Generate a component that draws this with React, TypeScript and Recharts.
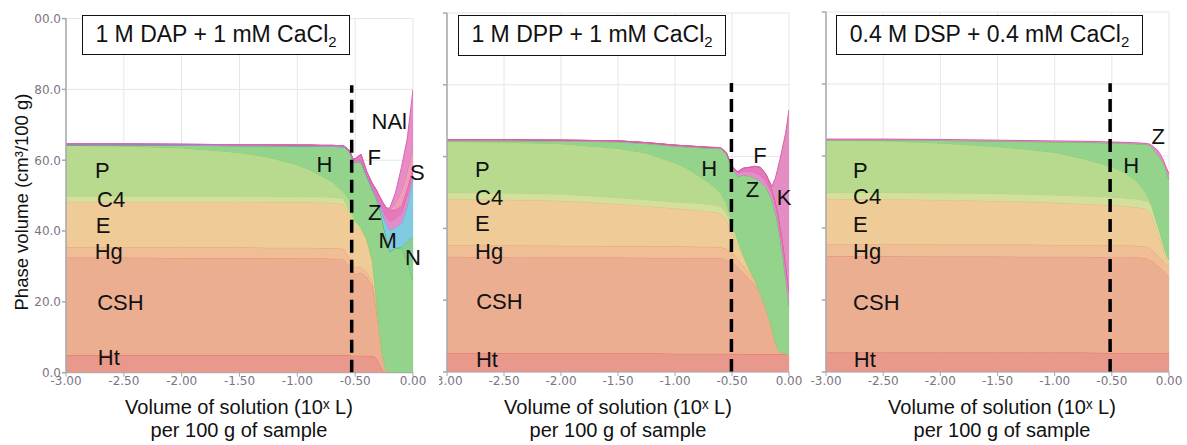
import React from 'react';
import { ComposedChart, Area, XAxis, YAxis, CartesianGrid, ReferenceLine, ReferenceDot } from 'recharts';

// ---------- shared axis data ----------
const xTicks = [-3, -2.5, -2, -1.5, -1, -0.5, 0];
const yTicks = [0, 20, 40, 60, 80, 100];
const yTickLabels = ['0.0', '20.0', '40.0', '60.0', '80.0', '00.0'];

// ---------- panel 1 : 1 M DAP + 1 mM CaCl2 (upper boundary of each phase) ----------
const x1 = [-3, -2.5, -2, -1.5, -1.25, -1, -0.9, -0.8, -0.7, -0.6, -0.55, -0.52, -0.5, -0.45, -0.4, -0.35, -0.32, -0.3, -0.28, -0.26, -0.23, -0.2, -0.15, -0.1, -0.05, 0];
const ht1 = [5.0, 5.0, 5.0, 5.0, 5.0, 5.0, 5.0, 5.0, 5.0, 5.0, 4.9, 4.8, 4.8, 4.8, 4.8, 4.7, 4.2, 3.0, 1.8, 0.5, 0, 0, 0, 0, 0, 0];
const csh1 = [32.5, 32.5, 32.4, 32.4, 32.4, 32.3, 32.3, 32.3, 32.2, 32.0, 30.0, 28.5, 27.8, 28.3, 27.0, 24.5, 18.6, 14.0, 9.2, 4.5, 0.5, 0, 0, 0, 0, 0];
const hg1 = [35.4, 35.4, 35.4, 35.4, 35.3, 35.3, 35.3, 35.2, 35.2, 35.0, 32.5, 30.5, 29.8, 30.0, 28.5, 26.0, 19.5, 14.5, 9.2, 4.5, 0.5, 0, 0, 0, 0, 0];
const e1 = [48.3, 48.3, 48.3, 48.3, 48.2, 48.2, 48.2, 48.1, 48.0, 47.6, 44.5, 42.5, 41.5, 40.5, 37.5, 31.5, 22.0, 15.0, 9.2, 4.5, 0.5, 0, 0, 0, 0, 0];
const c41 = [49.9, 49.9, 49.9, 49.9, 49.8, 49.8, 49.8, 49.7, 49.6, 49.2, 45.5, 43.5, 42.3, 41.0, 37.8, 31.5, 22.0, 15.0, 9.2, 4.5, 0.5, 0, 0, 0, 0, 0];
const p1 = [64.2, 64.0, 63.5, 62.2, 60.9, 58.7, 57.5, 55.7, 54.0, 51.0, 48.8, 45.0, 43.0, 41.0, 37.8, 31.5, 22.0, 15.0, 9.2, 4.5, 0.5, 0, 0, 0, 0, 0];
const h1 = [64.3, 64.3, 64.2, 64.1, 64.1, 64.0, 64.0, 63.9, 63.9, 63.8, 62.5, 60.0, 59.3, 59.6, 55.5, 51.6, 49.5, 47.5, 45.5, 42.0, 38.0, 34.2, 35.2, 35.0, 31.5, 26.0];
const n1 = [64.3, 64.3, 64.2, 64.1, 64.1, 64.0, 64.0, 63.9, 63.9, 63.8, 62.5, 60.0, 59.3, 59.6, 55.5, 51.6, 49.5, 47.5, 45.5, 42.0, 38.0, 34.2, 35.2, 35.5, 37.0, 38.5];
const m1 = [64.3, 64.3, 64.2, 64.1, 64.1, 64.0, 64.0, 63.9, 63.9, 63.8, 62.5, 60.0, 59.3, 59.6, 55.5, 51.6, 49.5, 47.8, 46.5, 44.5, 42.0, 40.3, 41.0, 42.2, 47.0, 55.0];
const z1 = [64.6, 64.6, 64.5, 64.4, 64.4, 64.3, 64.3, 64.2, 64.2, 64.1, 62.8, 60.4, 59.8, 60.0, 56.0, 52.2, 50.3, 48.8, 47.5, 46.0, 44.0, 42.8, 43.5, 45.0, 50.0, 57.0];
const f1 = [64.6, 64.6, 64.5, 64.4, 64.4, 64.3, 64.3, 64.2, 64.2, 64.1, 62.8, 60.5, 60.4, 61.7, 56.8, 53.3, 51.8, 50.5, 49.2, 48.0, 46.5, 45.8, 46.0, 47.0, 52.0, 58.0];
const s1 = [64.6, 64.6, 64.5, 64.4, 64.4, 64.3, 64.3, 64.2, 64.2, 64.1, 62.8, 60.5, 60.4, 61.7, 56.8, 53.3, 51.8, 50.5, 49.2, 48.0, 46.5, 45.8, 48.0, 51.5, 57.0, 64.0];
const nai1 = [64.6, 64.6, 64.5, 64.4, 64.4, 64.3, 64.3, 64.2, 64.2, 64.1, 62.8, 60.5, 60.4, 61.7, 56.8, 53.3, 51.8, 50.5, 49.2, 48.0, 46.5, 46.5, 51.0, 58.0, 66.0, 80.0];

// ---------- panel 2 : 1 M DPP + 1 mM CaCl2 ----------
const x2 = [-3, -2.5, -2, -1.5, -1.25, -1, -0.9, -0.8, -0.7, -0.6, -0.55, -0.5, -0.45, -0.4, -0.35, -0.3, -0.25, -0.2, -0.15, -0.12, -0.1, -0.08, -0.05, -0.03, 0];
const ht2 = [5.2, 5.2, 5.2, 5.2, 5.2, 5.1, 5.1, 5.1, 5.1, 5.1, 5.1, 5.1, 5.1, 5.0, 5.0, 5.0, 5.0, 5.0, 5.0, 5.0, 5.0, 5.0, 5.0, 5.0, 5.0];
const csh2 = [32.1, 32.0, 31.9, 31.9, 31.8, 31.8, 31.8, 31.8, 31.8, 31.8, 31.2, 30.5, 29.2, 27.5, 26.0, 24.3, 21.8, 17.5, 12.5, 8.5, 6.6, 5.6, 5.3, 5.1, 5.0];
const hg2 = [35.4, 35.3, 35.2, 35.1, 35.0, 35.0, 35.0, 34.9, 34.9, 34.8, 34.3, 33.2, 31.5, 29.5, 27.5, 25.5, 21.8, 17.5, 12.5, 8.5, 6.6, 5.6, 5.3, 5.1, 5.0];
const e2 = [48.1, 48.0, 47.7, 46.8, 46.2, 45.6, 45.3, 45.0, 44.7, 44.2, 42.5, 39.0, 35.5, 32.0, 28.5, 25.6, 21.8, 17.5, 12.5, 8.5, 6.6, 5.6, 5.3, 5.1, 5.0];
const c42 = [50.0, 49.9, 49.6, 48.6, 48.0, 47.4, 47.2, 47.0, 46.7, 46.2, 44.5, 40.5, 36.5, 32.5, 28.8, 25.6, 21.8, 17.5, 12.5, 8.5, 6.6, 5.6, 5.3, 5.1, 5.0];
const p2 = [64.2, 64.0, 63.6, 62.3, 61.0, 58.3, 56.8, 54.8, 52.7, 50.0, 47.0, 42.0, 37.0, 32.5, 28.8, 25.6, 21.8, 17.5, 12.5, 8.5, 6.6, 5.6, 5.3, 5.1, 5.0];
const h2 = [64.4, 64.4, 64.3, 64.1, 63.6, 62.9, 62.7, 62.5, 62.3, 62.2, 60.8, 56.8, 54.5, 54.8, 54.6, 54.0, 53.0, 51.3, 48.0, 44.5, 41.4, 37.5, 31.2, 26.0, 18.2];
const z2 = [64.7, 64.7, 64.6, 64.4, 63.9, 63.2, 63.0, 62.8, 62.6, 62.5, 61.1, 57.2, 55.5, 56.0, 56.0, 55.6, 54.8, 53.0, 50.0, 46.8, 43.8, 40.0, 34.0, 29.0, 22.0];
const f2 = [64.7, 64.7, 64.6, 64.4, 63.9, 63.2, 63.0, 62.8, 62.6, 62.5, 61.1, 57.2, 55.8, 56.8, 57.0, 57.3, 57.0, 55.0, 51.0, 47.8, 45.0, 41.5, 35.5, 30.5, 23.0];
const k2 = [64.7, 64.7, 64.6, 64.4, 63.9, 63.2, 63.0, 62.8, 62.6, 62.5, 61.1, 57.2, 55.8, 56.8, 57.0, 57.3, 57.0, 55.0, 51.7, 54.0, 56.5, 59.1, 63.5, 66.5, 73.0];

// ---------- panel 3 : 0.4 M DSP + 0.4 mM CaCl2 ----------
const x3 = [-3, -2.5, -2, -1.5, -1.25, -1, -0.75, -0.5, -0.4, -0.3, -0.25, -0.2, -0.17, -0.15, -0.1, -0.08, -0.05, -0.03, 0];
const ht3 = [5.4, 5.4, 5.4, 5.4, 5.4, 5.4, 5.4, 5.3, 5.3, 5.3, 5.3, 5.3, 5.3, 5.3, 5.3, 5.3, 5.2, 5.2, 5.2];
const csh3 = [32.2, 32.2, 32.1, 32.1, 32.0, 32.0, 32.0, 31.9, 31.9, 31.8, 31.8, 31.6, 31.2, 30.8, 29.5, 29.0, 28.2, 27.5, 26.5];
const hg3 = [35.5, 35.5, 35.4, 35.4, 35.4, 35.3, 35.3, 35.2, 35.2, 35.1, 35.0, 34.8, 34.3, 33.8, 32.5, 31.8, 30.8, 30.2, 29.3];
const e3 = [48.1, 48.0, 47.8, 47.5, 47.3, 47.0, 46.7, 46.3, 46.1, 45.8, 45.6, 45.3, 44.5, 43.5, 39.0, 37.0, 34.0, 32.3, 30.2];
const c43 = [49.9, 49.9, 49.8, 49.6, 49.4, 49.2, 48.9, 48.6, 48.4, 48.1, 47.9, 47.6, 47.0, 46.0, 41.0, 39.0, 35.5, 33.5, 31.1];
const p3 = [64.4, 64.2, 63.6, 62.6, 61.9, 61.0, 59.3, 57.0, 55.6, 53.5, 51.8, 49.8, 47.8, 46.2, 41.0, 39.0, 35.5, 33.5, 31.1];
const h3 = [64.4, 64.4, 64.3, 64.1, 64.0, 63.9, 63.8, 63.6, 63.5, 63.4, 63.3, 63.2, 63.0, 62.5, 60.3, 59.5, 58.0, 56.5, 53.3];
const z3 = [64.7, 64.7, 64.6, 64.4, 64.3, 64.2, 64.1, 63.9, 63.8, 63.7, 63.6, 63.5, 63.3, 62.9, 61.6, 60.7, 58.9, 57.3, 55.0];

// ---------- phase labels ----------
const labels1 = [
  { text: 'P', x: -2.686, y: 57.2 }, { text: 'C4', x: -2.61, y: 48.8 }, { text: 'E', x: -2.68, y: 41.7 },
  { text: 'Hg', x: -2.63, y: 34.1 }, { text: 'CSH', x: -2.53, y: 19.9 }, { text: 'Ht', x: -2.63, y: 4.2 },
  { text: 'H', x: -0.766, y: 58.7 }, { text: 'NAl', x: -0.205, y: 70.8 }, { text: 'F', x: -0.335, y: 60.9 },
  { text: 'S', x: 0.037, y: 56.6 }, { text: 'Z', x: -0.33, y: 45.3 }, { text: 'M', x: -0.22, y: 37.4 },
  { text: 'N', x: 0.0, y: 32.4 },
];
const labels2 = [
  { text: 'P', x: -2.69, y: 56.3 }, { text: 'C4', x: -2.63, y: 48.7 }, { text: 'E', x: -2.69, y: 41.3 },
  { text: 'Hg', x: -2.63, y: 33.5 }, { text: 'CSH', x: -2.54, y: 19.6 }, { text: 'Ht', x: -2.65, y: 3.5 },
  { text: 'H', x: -0.7, y: 56.8 }, { text: 'F', x: -0.255, y: 60.2 }, { text: 'Z', x: -0.32, y: 50.9 },
  { text: 'K', x: -0.044, y: 48.7 },
];
const labels3 = [
  { text: 'P', x: -2.7, y: 56.1 }, { text: 'C4', x: -2.64, y: 48.7 }, { text: 'E', x: -2.7, y: 41.1 },
  { text: 'Hg', x: -2.64, y: 33.4 }, { text: 'CSH', x: -2.56, y: 19.4 }, { text: 'Ht', x: -2.66, y: 3.5 },
  { text: 'H', x: -0.33, y: 57.5 }, { text: 'Z', x: -0.094, y: 65.4 },
];

const titles = [
  { main: '1 M DAP + 1 mM CaCl', sub: '2' },
  { main: '1 M DPP + 1 mM CaCl', sub: '2' },
  { main: '0.4 M DSP + 0.4 mM CaCl', sub: '2' },
];
const dashX = [-0.53, -0.505, -0.515];
const dashTop = [81.2, 80.5, 80.2];

// ---------- styles ----------
const STYLE: Record<string, { fill: string; stroke: string }> = {
  Ht: { fill: '#e9998c', stroke: '#e2705f' },
  CSH: { fill: '#ecae91', stroke: '#e8906c' },
  Hg: { fill: '#efbe96', stroke: '#eba468' },
  E: { fill: '#eecb97', stroke: '#e0bd72' },
  C4: { fill: '#d3df9c', stroke: '#b4d275' },
  P: { fill: '#b7da8f', stroke: '#8ccb68' },
  H: { fill: '#93d38b', stroke: '#5dbd58' },
  N: { fill: '#86cf8f', stroke: '#4cb86a' },
  M: { fill: '#80cbe0', stroke: '#47b0d8' },
  Z: { fill: '#e58ccb', stroke: '#dc5cb4' },
  F: { fill: '#e47ab9', stroke: '#d44c9f' },
  S: { fill: '#ee9cba', stroke: '#e0709a' },
  NAI: { fill: '#e68dc8', stroke: '#dd60b6' },
  K: { fill: '#e38dc2', stroke: '#d95fa8' },
};

type Layer = { key: string; top: number[] };

const panels = [
  {
    xs: x1,
    layers: [
      { key: 'Ht', top: ht1 }, { key: 'CSH', top: csh1 }, { key: 'Hg', top: hg1 }, { key: 'E', top: e1 },
      { key: 'C4', top: c41 }, { key: 'P', top: p1 }, { key: 'H', top: h1 }, { key: 'N', top: n1 },
      { key: 'M', top: m1 }, { key: 'Z', top: z1 }, { key: 'F', top: f1 }, { key: 'S', top: s1 }, { key: 'NAI', top: nai1 },
    ] as Layer[],
    labels: labels1,
    left: 0, width: 440, plotLeft: 66, plotRight: 413, plotTop: 18.6, plotBottom: 372.7, showY: true,
    box: { left: 82, top: 15, width: 268, height: 40 }, center: 239,
  },
  {
    xs: x2,
    layers: [
      { key: 'Ht', top: ht2 }, { key: 'CSH', top: csh2 }, { key: 'Hg', top: hg2 }, { key: 'E', top: e2 },
      { key: 'C4', top: c42 }, { key: 'P', top: p2 }, { key: 'H', top: h2 }, { key: 'Z', top: z2 },
      { key: 'F', top: f2 }, { key: 'K', top: k2 },
    ] as Layer[],
    labels: labels2,
    left: 439, width: 375, plotLeft: 447, plotRight: 789, plotTop: 13, plotBottom: 372, showY: false,
    box: { left: 458, top: 15, width: 268, height: 41 }, center: 618,
  },
  {
    xs: x3,
    layers: [
      { key: 'Ht', top: ht3 }, { key: 'CSH', top: csh3 }, { key: 'Hg', top: hg3 }, { key: 'E', top: e3 },
      { key: 'C4', top: c43 }, { key: 'P', top: p3 }, { key: 'H', top: h3 }, { key: 'Z', top: z3 },
    ] as Layer[],
    labels: labels3,
    left: 810, width: 377, plotLeft: 826, plotRight: 1169, plotTop: 12, plotBottom: 372, showY: false,
    box: { left: 836, top: 15, width: 307, height: 40 }, center: 1002,
  },
];

function buildRows(xs: number[], layers: Layer[]) {
  return xs.map((x, i) => {
    const row: Record<string, number> = { x };
    let prev = 0;
    layers.forEach((l) => {
      row[l.key] = Math.max(0, l.top[i] - prev);
      prev = Math.max(prev, l.top[i]);
    });
    return row;
  });
}

const FONT = '"Liberation Sans", Arial, sans-serif';
const TICK_FONT = '"DejaVu Sans", Verdana, sans-serif';
const H = 445;
const XAXIS_H = 30;

function Panel({ cfg, idx }: { cfg: (typeof panels)[number]; idx: number }) {
  const rows = buildRows(cfg.xs, cfg.layers);
  const yAxisWidth = cfg.plotLeft - cfg.left;
  const marginRight = cfg.width - (cfg.plotRight - cfg.left);
  const marginBottom = H - cfg.plotBottom - XAXIS_H;
  return (
    <div style={{ position: 'absolute', left: cfg.left, top: 0, width: cfg.width, height: H, overflow: 'hidden' }}>
      <ComposedChart
        width={cfg.width}
        height={H}
        data={rows}
        margin={{ top: cfg.plotTop, right: marginRight, bottom: marginBottom, left: 0 }}
      >
        <CartesianGrid stroke="#e6e6e6" strokeWidth={1} />
        <XAxis
          type="number"
          dataKey="x"
          domain={[-3, 0]}
          ticks={xTicks}
          allowDataOverflow
          height={XAXIS_H}
          tickFormatter={(v: number) => v.toFixed(2)}
          tick={{ fill: '#7b7484', fontSize: 12, fontFamily: TICK_FONT }}
          tickSize={4}
          tickMargin={0}
          stroke="#a8a8a8"
          interval={0}
        />
        <YAxis
          type="number"
          domain={[0, 100]}
          ticks={yTicks}
          allowDataOverflow
          width={yAxisWidth}
          tickFormatter={(v: number) => (cfg.showY ? yTickLabels[yTicks.indexOf(v)] : '')}
          tick={{ fill: '#7b7484', fontSize: 12, fontFamily: TICK_FONT }}
          tickSize={4}
          tickMargin={1}
          stroke="#a8a8a8"
          strokeWidth={1.5}
          interval={0}
        />
        {cfg.layers.map((l) => (
          <Area
            key={l.key}
            dataKey={l.key}
            stackId="s"
            type="linear"
            fill={STYLE[l.key].fill}
            fillOpacity={1}
            stroke={STYLE[l.key].stroke}
            strokeWidth={1}
            dot={false}
            activeDot={false}
            isAnimationActive={false}
          />
        ))}
        <ReferenceLine
          segment={[{ x: dashX[idx], y: 0 }, { x: dashX[idx], y: dashTop[idx] }]}
          stroke="#000"
          strokeWidth={3.5}
          strokeDasharray="13 7"
          ifOverflow="visible"
        />
        {cfg.labels.map((lb, i) => (
          <ReferenceDot
            key={i}
            x={lb.x}
            y={lb.y}
            r={0}
            ifOverflow="visible"
            shape={(p: any) => (
              <text
                x={p.cx}
                y={p.cy}
                textAnchor="middle"
                dominantBaseline="central"
                fontSize={22}
                fill="#111"
                fontFamily={FONT}
              >
                {lb.text}
              </text>
            )}
          />
        ))}
      </ComposedChart>
    </div>
  );
}

export default function App() {
  return (
    <div
      style={{
        position: 'absolute',
        left: 0,
        top: 0,
        width: 1187,
        height: 445,
        background: '#fff',
        overflow: 'hidden',
        fontFamily: FONT,
      }}
    >
      {panels.map((p, i) => (
        <Panel key={i} cfg={p} idx={i} />
      ))}
      {panels.map((p, i) => (
        <div
          key={'box' + i}
          style={{
            position: 'absolute',
            left: p.box.left,
            top: p.box.top,
            width: p.box.width,
            height: p.box.height,
            border: '1.5px solid #111',
            background: '#fff',
            boxSizing: 'border-box',
            display: 'flex',
            alignItems: 'center',
            justifyContent: 'center',
            fontSize: 23,
            color: '#111',
            whiteSpace: 'nowrap',
          }}
        >
          <span>
            {titles[i].main}
            <sub style={{ fontSize: 15, verticalAlign: -5 }}>{titles[i].sub}</sub>
          </span>
        </div>
      ))}
      {panels.map((p, i) => (
        <div
          key={'xl' + i}
          style={{
            position: 'absolute',
            left: p.center - 160,
            top: 396,
            width: 320,
            textAlign: 'center',
            fontSize: 20,
            lineHeight: '23px',
            color: '#111',
          }}
        >
          <div>Volume of solution (10ˣ L)</div>
          <div>per 100 g of sample</div>
        </div>
      ))}
      <div
        style={{
          position: 'absolute',
          left: 22,
          top: 202,
          transform: 'translate(-50%, -50%) rotate(-90deg)',
          fontSize: 18.5,
          whiteSpace: 'nowrap',
          color: '#111',
        }}
      >
        Phase volume (cm³/100 g)
      </div>
    </div>
  );
}
